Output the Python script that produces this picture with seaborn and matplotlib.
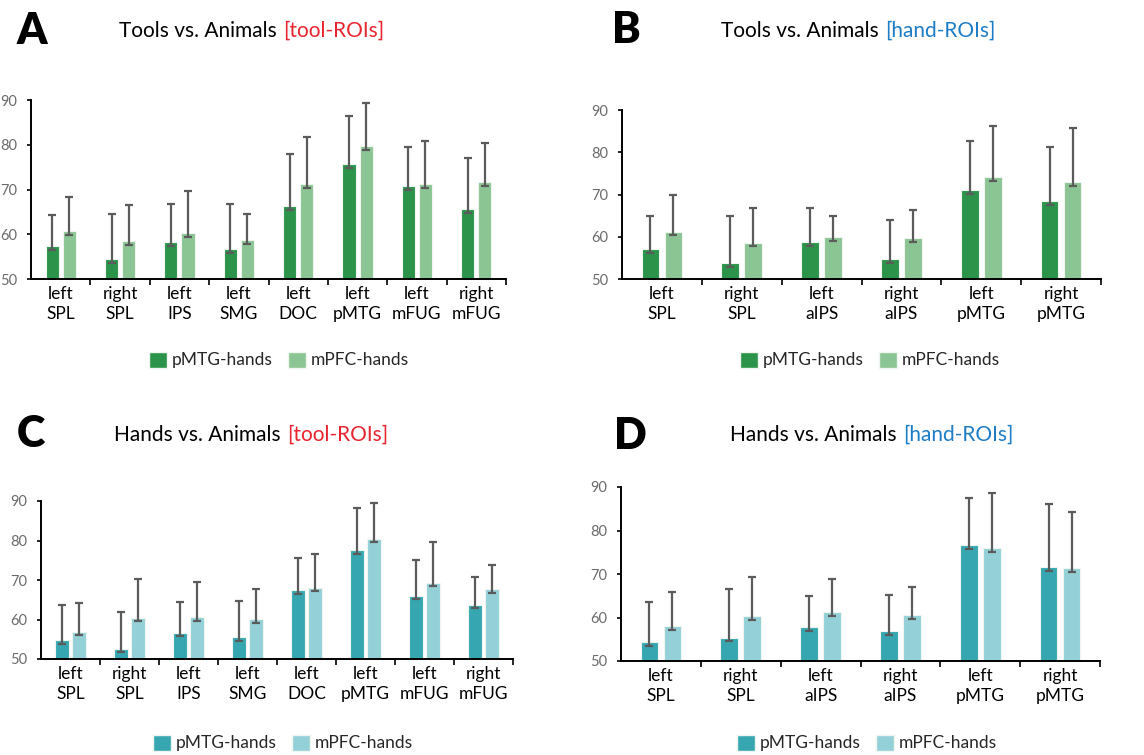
import matplotlib
matplotlib.use("Agg")
import matplotlib.pyplot as plt
import seaborn as sns
import pandas as pd
import numpy as np
from matplotlib.patches import Patch

sns.set_theme(style="white")
plt.rcParams["font.family"] = ["Lato", "DejaVu Sans"]

# ---- data -------------------------------------------------------------
seeds = ["pMTG-hands", "mPFC-hands"]

tool_hemi = ["left", "right", "left", "left", "left", "left", "left", "right"]
tool_roi = ["SPL", "SPL", "IPS", "SMG", "DOC", "pMTG", "mFUG", "mFUG"]
hand_hemi = ["left", "right", "left", "right", "left", "right"]
hand_roi = ["SPL", "SPL", "aIPS", "aIPS", "pMTG", "pMTG"]

# Panel A: tools vs. animals, tool ROIs (mean, upper error limit)
a_pmtg = [57.4, 54.5, 58.3, 56.8, 66.3, 75.7, 70.7, 65.7]
a_pmtg_hi = [64.4, 64.6, 66.8, 66.8, 78.0, 86.4, 79.5, 77.1]
a_mpfc = [60.8, 58.6, 60.3, 58.7, 71.3, 79.8, 71.2, 71.7]
a_mpfc_hi = [68.4, 66.5, 69.6, 64.6, 81.7, 89.3, 80.9, 80.5]

# Panel B: tools vs. animals, hand ROIs
b_pmtg = [57.1, 53.8, 58.7, 54.7, 71.0, 68.5]
b_pmtg_hi = [64.9, 64.8, 66.7, 64.0, 82.6, 81.2]
b_mpfc = [61.2, 58.6, 60.0, 59.6, 74.1, 73.0]
b_mpfc_hi = [69.9, 66.8, 64.8, 66.3, 86.2, 85.7]

# Panel C: hands vs. animals, tool ROIs
c_pmtg = [54.7, 52.6, 56.7, 55.5, 67.4, 77.5, 66.0, 63.7]
c_pmtg_hi = [63.7, 61.8, 64.5, 64.6, 75.5, 88.3, 75.0, 70.7]
c_mpfc = [56.9, 60.4, 60.6, 60.1, 68.0, 80.5, 69.3, 67.7]
c_mpfc_hi = [64.2, 70.3, 69.5, 67.8, 76.7, 89.6, 79.6, 73.7]

# Panel D: hands vs. animals, hand ROIs
d_pmtg = [54.4, 55.4, 57.8, 56.8, 76.7, 71.7]
d_pmtg_hi = [63.6, 66.6, 64.9, 65.2, 87.4, 86.2]
d_mpfc = [58.0, 60.3, 61.3, 60.6, 76.0, 71.4]
d_mpfc_hi = [65.9, 69.2, 68.9, 67.1, 88.7, 84.3]

yticks = [50, 60, 70, 80, 90]

# ---- style ------------------------------------------------------------
GREENS = ["#2b944a", "#8cc594"]
TEALS = ["#36a7b0", "#94d0d8"]
RED = "#e8242e"
BLUE = "#1c7cc6"
ERR = "#5b5b5b"
PX = 1.0 / 100  # inch per pixel at dpi 100

fig = plt.figure(figsize=(11.44, 7.55), dpi=100)
W, H = 1144, 755


def axes_px(left, right, top, bottom):
    return fig.add_axes([left / W, 1 - bottom / H, (right - left) / W, (bottom - top) / H])


def panel(ax, hemi, roi, m1, h1, m2, h2, colors):
    labels = [f"{h}\n{r}" for h, r in zip(hemi, roi)]
    df = pd.DataFrame({
        "roi": labels * 2,
        "acc": list(m1) + list(m2),
        "hi": list(h1) + list(h2),
        "seed": [seeds[0]] * len(labels) + [seeds[1]] * len(labels),
    })
    sns.barplot(data=df, x="roi", y="acc", hue="seed", hue_order=seeds,
                palette=colors, width=0.575, gap=0.23, errorbar=None,
                edgecolor="#eef6ef", linewidth=0.8, legend=False, ax=ax,
                saturation=1)
    # error bars anchored at the bar centres seaborn placed
    for cont, seed in zip(ax.containers, seeds):
        sub = df[df["seed"] == seed]
        xs = [p.get_x() + p.get_width() / 2 for p in cont.patches]
        means = sub["acc"].to_numpy()
        up = sub["hi"].to_numpy() - means
        low = np.full_like(means, 0.9)
        ax.errorbar(xs, means, yerr=[low, up], fmt="none", ecolor=ERR,
                    elinewidth=1.6, capsize=3.2, capthick=1.6, zorder=5)
    n = len(labels)
    ax.set_xlim(-0.5, n - 0.5)
    ax.set_ylim(50, 90)
    ax.set_yticks(yticks)
    ax.set_xlabel("")
    ax.set_ylabel("")
    ax.set_xticks(range(n))
    ax.set_xticklabels(labels, fontsize=12.5, linespacing=1.3, color="black")
    ax.set_xticks(np.arange(0.5, n), minor=True)
    ax.tick_params(axis="x", which="major", length=0, pad=5)
    ax.tick_params(axis="x", which="minor", length=4, width=1.2, direction="out",
                   color="black", bottom=True)
    ax.tick_params(axis="y", length=3, width=1.2, direction="out", color="black",
                   labelsize=10.5, labelcolor="#6b6b6b", pad=7, left=True)
    for s in ("top", "right"):
        ax.spines[s].set_visible(False)
    for s in ("left", "bottom"):
        ax.spines[s].set_color("black")
        ax.spines[s].set_linewidth(1.4)
    ax.set_facecolor("white")


def title(x_split, y, black, colored, ccolor, letter, lx, ly):
    fig.text((x_split - 3) / W, 1 - y / H, black, ha="right", va="baseline",
             fontsize=15, color="black")
    fig.text((x_split + 3) / W, 1 - y / H, colored, ha="left", va="baseline",
             fontsize=15, color=ccolor)
    fig.text(lx / W, 1 - ly / H, letter, ha="left", va="baseline",
             fontsize=31, fontweight="heavy", color="black")


def legend(cx, cy, colors):
    handles = [Patch(facecolor=c, edgecolor="#eef6ef", label=s) for c, s in zip(colors, seeds)]
    fig.legend(handles=handles, loc="center", bbox_to_anchor=(cx / W, 1 - cy / H),
               ncol=2, frameon=False, fontsize=12.5, handlelength=1.05,
               handleheight=1.05, handletextpad=0.25, columnspacing=0.9,
               borderaxespad=0, borderpad=0)


axA = axes_px(31, 506, 100, 279)
panel(axA, tool_hemi, tool_roi, a_pmtg, a_pmtg_hi, a_mpfc, a_mpfc_hi, GREENS)
axB = axes_px(622, 1101, 110, 279)
panel(axB, hand_hemi, hand_roi, b_pmtg, b_pmtg_hi, b_mpfc, b_mpfc_hi, GREENS)
axC = axes_px(41, 513, 501, 659)
panel(axC, tool_hemi, tool_roi, c_pmtg, c_pmtg_hi, c_mpfc, c_mpfc_hi, TEALS)
axD = axes_px(621, 1100, 487, 661)
panel(axD, hand_hemi, hand_roi, d_pmtg, d_pmtg_hi, d_mpfc, d_mpfc_hi, TEALS)

title(280, 37, "Tools vs. Animals", "[tool-ROIs]", RED, "A", 17, 44)
title(882, 37, "Tools vs. Animals", "[hand-ROIs]", BLUE, "B", 612, 43)
title(284, 441, "Hands vs. Animals", "[tool-ROIs]", RED, "C", 17, 447)
title(900, 441, "Hands vs. Animals", "[hand-ROIs]", BLUE, "D", 614, 449)

legend(279, 360, GREENS)
legend(870, 360, GREENS)
legend(283, 743, TEALS)
legend(867, 743, TEALS)

fig.savefig("out.png", dpi=100, facecolor="white")
